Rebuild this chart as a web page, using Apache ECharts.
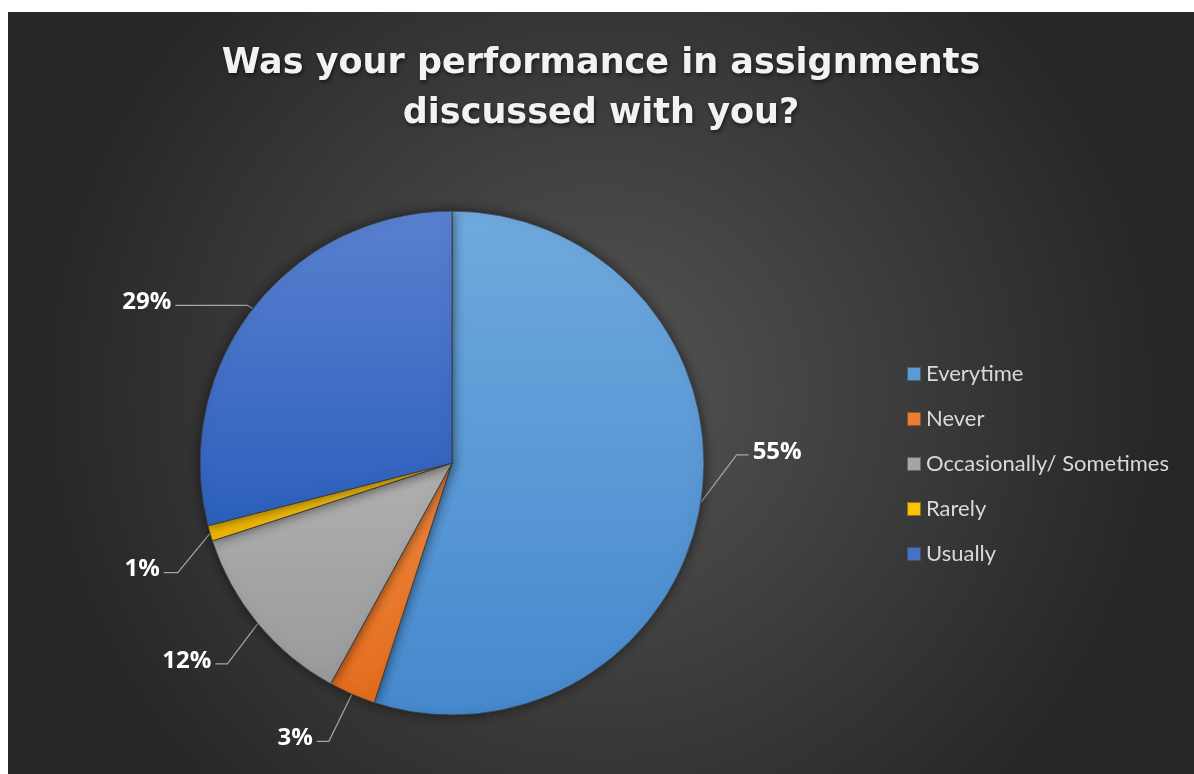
<!DOCTYPE html>
<html>
<head>
<meta charset="utf-8">
<script src="https://cdn.jsdelivr.net/npm/echarts@6/dist/echarts.min.js"></script>
<style>
  html, body { margin: 0; padding: 0; background: #ffffff; }
  #chart { position: absolute; left: 8px; top: 12px; width: 1186px; height: 762px; }
</style>
</head>
<body>
<div id="chart"></div>
<script>
// data
var categories = ["Everytime", "Never", "Occasionally/ Sometimes", "Rarely", "Usually"];
var percents = [55, 3, 12, 1, 29];

// colours (top, bottom of each slice gradient)
var sliceColors = [
  ["#70a9de", "#4589cd"],
  ["#f18a3f", "#e46c1d"],
  ["#b0b0b0", "#9a9a9a"],
  ["#ffc61a", "#f0b800"],
  ["#5a80d0", "#2c60bc"]
];
var legendColors = ["#5b9bd5", "#ed7d31", "#a5a5a5", "#ffc000", "#4472c4"];
// leader line lengths per slice
var lineLen = [[22, 12], [48, 12], [46, 12], [44, 14], [2, 72]];
// nudges for the labels (like Excel's hand placed ones)
var labelShift = [[14, -54], [-4, 0], [5, 8], [10, 24], [-4, -5]];

var myChart = echarts.init(document.getElementById("chart"));

var data = categories.map(function (name, i) {
  return {
    name: name,
    value: percents[i],
    itemStyle: {
      color: new echarts.graphic.LinearGradient(0, 0, 0, 1, [
        { offset: 0, color: sliceColors[i][0] },
        { offset: 1, color: sliceColors[i][1] }
      ])
    },
    labelLine: { length: lineLen[i][0], length2: lineLen[i][1] }
  };
});

// move a label and redraw its leader line: edge point -> elbow -> label side
function moveLabel(params) {
  var i = params.dataIndex;
  var s = labelShift[i];
  var r = params.labelRect;
  var pts = params.labelLinePoints;
  var x = r.x + s[0];
  var y = r.y + s[1];
  var cy = y + r.height / 2 + 3;
  var onRight = pts[2][0] >= pts[0][0];
  var endX = onRight ? x - 4 : x + r.width + 4;
  var elbowX = onRight ? endX - lineLen[i][1] : endX + lineLen[i][1];
  return {
    x: x + (params.align === "right" ? r.width : params.align === "center" ? r.width / 2 : 0),
    y: y + r.height / 2,
    verticalAlign: "middle",
    labelLinePoints: [pts[0], [elbowX, cy], [endX, cy]]
  };
}

var option = {
  backgroundColor: {
    type: "radial",
    x: 0.5, y: 0.5, r: 0.75,
    colorStops: [
      { offset: 0, color: "#545454" },
      { offset: 1, color: "#262626" }
    ]
  },
  title: {
    text: "Was your performance in assignments\ndiscussed with you?",
    left: "center",
    top: 22,
    textStyle: {
      fontFamily: "DejaVu Sans",
      fontSize: 35,
      fontWeight: "bold",
      color: "#f2f2f2",
      lineHeight: 50,
      textShadowColor: "rgba(0,0,0,0.6)",
      textShadowBlur: 4,
      textShadowOffsetX: 1,
      textShadowOffsetY: 2
    }
  },
  legend: {
    orient: "vertical",
    left: 893,
    top: 345,
    itemWidth: 14,
    itemHeight: 14,
    itemGap: 21,
    icon: "rect",
    data: categories.map(function (name, i) {
      return { name: name, itemStyle: { color: legendColors[i] } };
    }),
    textStyle: {
      fontFamily: "Lato",
      fontSize: 22,
      color: "#d9d9d9",
      lineHeight: 24,
      padding: [0, 0, 0, 0]
    }
  },
  series: [
    {
      type: "pie",
      center: [444, 451],
      radius: 252,
      startAngle: 90,
      clockwise: true,
      avoidLabelOverlap: false,
      percentPrecision: 0,
      data: data,
      itemStyle: {
        borderColor: "rgba(60,60,60,0.6)",
        borderWidth: 0.8,
        shadowBlur: 12,
        shadowColor: "rgba(0,0,0,0.55)"
      },
      label: {
        show: true,
        formatter: "{c}%",
        fontFamily: "Open Sans",
        fontSize: 24,
        fontWeight: "bold",
        color: "#ffffff",
        distanceToLabelLine: 4
      },
      labelLine: {
        show: true,
        lineStyle: { color: "#a6a6a6", width: 1.2 }
      },
      labelLayout: moveLabel,
      emphasis: { disabled: true }
    }
  ]
};

myChart.setOption(option);
</script>
</body>
</html>
